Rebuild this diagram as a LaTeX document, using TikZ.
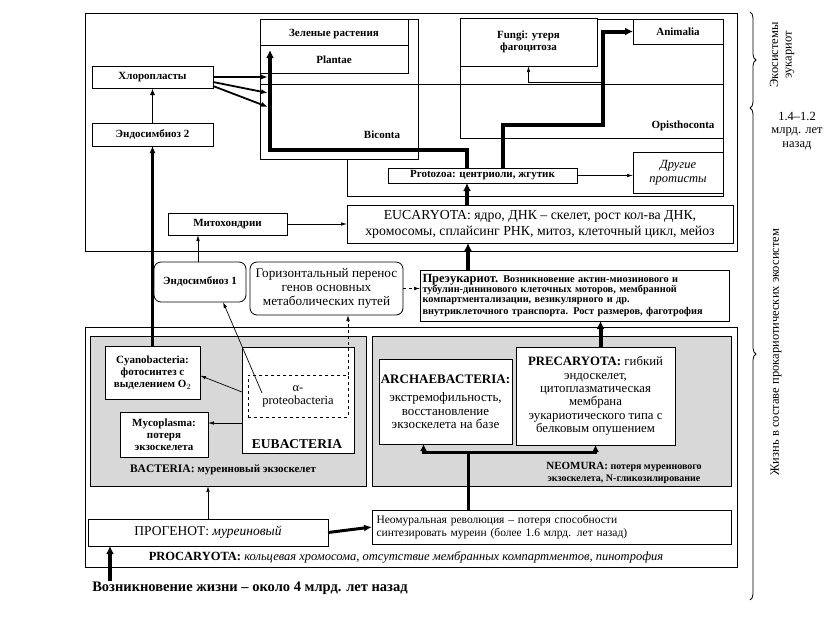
\documentclass[tikz,border=0pt]{standalone}
\usepackage{fontspec}
\setmainfont{Liberation Serif}
\usepackage{tikz}
\usetikzlibrary{arrows.meta,positioning,decorations.pathreplacing}
\definecolor{pkgray}{RGB}{216,216,216}
\tikzstyle{outline} = [line width=0.8pt]
\tikzstyle{lbox} = [draw, line width=0.8pt, fill=white, align=center, inner sep=1pt, outer sep=0pt, font=\fontsize{11}{12}\selectfont\bfseries]
\tikzstyle{rbox} = [lbox, font=\fontsize{12.8}{13.3}\selectfont]
\tikzstyle{lbl} = [inner sep=0pt, font=\fontsize{11}{12}\selectfont\bfseries]
\tikzstyle{graybox} = [draw, line width=0.8pt, fill=pkgray, outer sep=0pt]
\tikzstyle{thinarrow} = [line width=0.7pt, -{Latex[length=6pt,width=3.5pt]}]
\tikzstyle{midarrow} = [line width=1.8pt, -{Latex[length=7pt,width=5pt]}]
\tikzstyle{thickarrow} = [line width=4pt, -{Latex[length=8pt,width=8pt]}]
\tikzstyle{dasharrow} = [thinarrow, dashed]

\begin{document}
\begin{tikzpicture}[x=1pt, y=-1pt]
\useasboundingbox (0,0) rectangle (832,630);

% Eukaryote ecosystems
\draw[outline] (85,13) rectangle (737,251);
\draw[outline] (260,19) rectangle (418,159);
\draw[outline] (260,19) rectangle (408,73);
\draw[outline] (260,45) -- (408,45);
\draw[outline] (460,19) rectangle (723,138);
\draw[outline] (260,84) -- (723,84);
\draw[outline] (723,19) -- (723,196) -- (347,196) -- (347,159);
\node[lbl] (green) at (334,34) {Зеленые растения};
\node[lbl] (plantae) at (334,60) {Plantae};
\node[lbl] (biconta) at (382,135) {Biconta};
\node[lbl] (opis) at (683,126) {Opisthoconta};

\node[lbox, minimum width=137pt, minimum height=48pt] (fungi) at (528.5,42) {Fungi: утеря\\фагоцитоза};
\node[lbox, minimum width=90pt, minimum height=25pt] (anim) at (678,31.5) {Animalia};
\node[lbox, minimum width=90pt, minimum height=41pt, font=\fontsize{12.5}{14.5}\selectfont\itshape] (others) at (678,172.5) {Другие\\протисты};
\node[lbox, minimum width=189pt, minimum height=15pt] (proto) at (482.5,175.5) {Protozoa: центриоли, жгутик};

\node[lbox, minimum width=121pt, minimum height=22pt] (chloro) at (152.5,77) {Хлоропласты};
\node[lbox, minimum width=121pt, minimum height=23pt] (endo2) at (152.5,134.5) {Эндосимбиоз 2};
\node[lbox, minimum width=119pt, minimum height=22pt] (mito) at (227.5,224) {Митохондрии};
\node[rbox, minimum width=386pt, minimum height=38pt, font=\fontsize{13.8}{16}\selectfont] (euca) at (540,224) {EUCARYOTA: ядро, ДНК – скелет, рост кол-ва ДНК,\\хромосомы, сплайсинг РНК, митоз, клеточный цикл, мейоз};

% Between the frames
\node[lbox, rounded corners=7pt, minimum width=92pt, minimum height=40pt] (endo1) at (200,282) {Эндосимбиоз 1};
\node[rbox, rounded corners=7pt, minimum width=153pt, minimum height=53pt, font=\fontsize{13.2}{14}\selectfont] (horiz) at (326.5,288.5) {Горизонтальный перенос\\генов основных\\метаболических путей};
\node[lbox, minimum width=309pt, minimum height=51pt, text width=304pt, align=left, font=\fontsize{10.3}{10.3}\selectfont\bfseries] (preeuk) at (574.5,295.5) {{\fontsize{12.5}{12}\selectfont Преэукариот.} Возникновение актин-миозинового и\\тубулин-дининового клеточных моторов, мембранной\\компартментализации, везикулярного и др.\\[2pt]внутриклеточного транспорта. Рост размеров, фаготрофия};

% Prokaryote ecosystems
\draw[outline] (85,327) rectangle (737,567);
\node[graybox, minimum width=276pt, minimum height=150pt] (bact) at (228,411) {};
\node[graybox, minimum width=359pt, minimum height=150pt] (neo) at (551.5,411) {};
\node[lbox, minimum width=95pt, minimum height=53pt] (cyano) at (152.5,372.5) {Cyanobacteria:\\фотосинтез с\\выделением O$_2$};
\node[lbox, minimum width=88pt, minimum height=45pt] (myco) at (164,434.5) {Mycoplasma:\\потеря\\экзоскелета};
\node[lbox, minimum width=112pt, minimum height=106pt] (eubac) at (298,400) {};
\node[lbl, font=\fontsize{13.5}{14}\selectfont\bfseries] (eubaclbl) at (297,444) {EUBACTERIA};
\node[rbox, dashed, minimum width=100pt, minimum height=42pt, font=\fontsize{12.5}{13}\selectfont] (alpha) at (298,396) {α-\\proteobacteria};
\node[lbl] (bactlbl) at (223,470) {{\fontsize{11.5}{12}\selectfont BACTERIA:} муреиновый экзоскелет};

\node[rbox, minimum width=133pt, minimum height=85pt, font=\fontsize{13}{13.5}\selectfont] (arch) at (445.5,401.5) {{\bfseries ARCHAEBACTERIA:}\\[5pt]экстремофильность,\\восстановление\\экзоскелета на базе};
\node[rbox, minimum width=159pt, minimum height=98pt] (preca) at (595.5,396) {{\bfseries PRECARYOTA:} гибкий\\эндоскелет,\\цитоплазматическая\\мембрана\\эукариотического типа с\\белковым опушением};
\node[lbl, align=center, font=\fontsize{10}{12}\selectfont\bfseries] (neolbl) at (624,473) {{\fontsize{11}{12}\selectfont NEOMURA:} потеря муреинового\\экзоскелета, N-гликозилирование};

\node[lbox, minimum width=359pt, minimum height=34pt, text width=350pt, align=left, font=\fontsize{11.5}{13}\selectfont] (neom) at (551.5,527) {Неомуральная революция – потеря способности\\синтезировать муреин (более 1.6 млрд. лет назад)};
\node[lbox, minimum width=240pt, minimum height=27pt, font=\fontsize{13.5}{14}\selectfont] (progen) at (208,532.5) {ПРОГЕНОТ: \textit{муреиновый}};
\node[inner sep=0pt, font=\fontsize{12.5}{13}\selectfont] (procar) at (406,557) {\textbf{PROCARYOTA:} \textit{кольцевая хромосома, отсутствие мембранных компартментов, пинотрофия}};
\node[inner sep=0pt, font=\fontsize{14.5}{15}\selectfont\bfseries] (origin) at (250,588) {Возникновение жизни – около 4 млрд. лет назад};

% Connectors
\coordinate (plantin) at (270,50);
\coordinate (opturn) at (603,125);
\coordinate (fungbr) at (603,82);
\coordinate (bic1) at (268,77);
\coordinate (bic2) at (268,93);
\coordinate (bic3) at (268,107);
\coordinate (tjoin) at (468,452);

\draw[thickarrow] ([xshift=-15.5pt]proto.north) -- ++(0,-18) -| (plantin);
\draw[thickarrow] ([xshift=20pt]proto.north) |- (opturn) |- (anim.west);
\draw[thinarrow] (fungbr) -| (fungi.south);
\draw[midarrow] (chloro.east) -- (bic1);
\draw[midarrow] ([yshift=-5pt]chloro.east) -- (bic2);
\draw[midarrow] ([yshift=-9pt]chloro.east) -- (bic3);
\draw[midarrow] (endo2) -- (chloro);
\draw[line width=2.5pt, -{Latex[length=7pt,width=6pt]}] (cyano.north) -- (endo2.south);
\draw[thinarrow] (proto.east) -- (proto.east -| others.west);
\draw[thickarrow] ([xshift=-73pt]euca.north) -- ([xshift=-73pt]euca.north |- proto.south);
\draw[thinarrow] (mito) -- (euca);
\draw[thinarrow] ([xshift=-2pt]endo1.north) -- ([xshift=-2pt]endo1.north |- mito.south);
\draw[dasharrow] (horiz.east) -- (horiz.east -| preeuk.west);
\draw[thickarrow] ([xshift=-72pt]euca.south |- preeuk.north) -- ([xshift=-72pt]euca.south);
\draw[thickarrow] ([xshift=5pt]preca.north) -- ([xshift=5pt]preca.north |- preeuk.south);
\draw[thinarrow] ([xshift=-36pt,yshift=3pt]alpha.center) -- ([xshift=23pt]endo1.south);
\draw[dasharrow] (alpha.north east) -- (alpha.north east |- horiz.south);
\draw[thinarrow] ([yshift=8pt]eubac.west) -- ([yshift=-3pt]cyano.east);
\draw[thinarrow] ([yshift=-23pt]eubac.west) -- ([yshift=-23pt]eubac.west -| myco.east);
\draw[line width=3pt] (neom.north -| tjoin) -- (tjoin);
\draw[line width=3pt, -{Latex[length=7pt,width=7pt]}] (tjoin) -| ([xshift=-22pt]arch.south);
\draw[line width=3pt, -{Latex[length=7pt,width=7pt]}] (tjoin) -| (preca.south);
\draw[thinarrow] (progen.north) -- (progen.north |- bact.south);
\draw[line width=3pt, -{Latex[length=8pt,width=7pt]}] (progen.east) -- (neom.west);
\draw[thickarrow] ([xshift=-140pt]origin.north) -- ([xshift=-140pt]origin.north |- progen.south);

% Time scale
\draw[outline, decorate, decoration={brace, amplitude=6pt}] (750,12) -- (750,108);
\draw[outline, decorate, decoration={brace, amplitude=6pt}] (750,108) -- (750,600);
\node[rotate=90, align=center, font=\fontsize{12.5}{13.5}\selectfont] (ecoeuk) at (782,55) {Экосистемы\\эукариот};
\node[align=center, font=\fontsize{12.5}{13.5}\selectfont] (date) at (797,131) {1.4–1.2\\млрд. лет\\назад};
\node[rotate=90, font=\fontsize{12.5}{13}\selectfont] (ecoprok) at (776,352) {Жизнь в составе прокариотических экосистем};
\end{tikzpicture}
\end{document}
